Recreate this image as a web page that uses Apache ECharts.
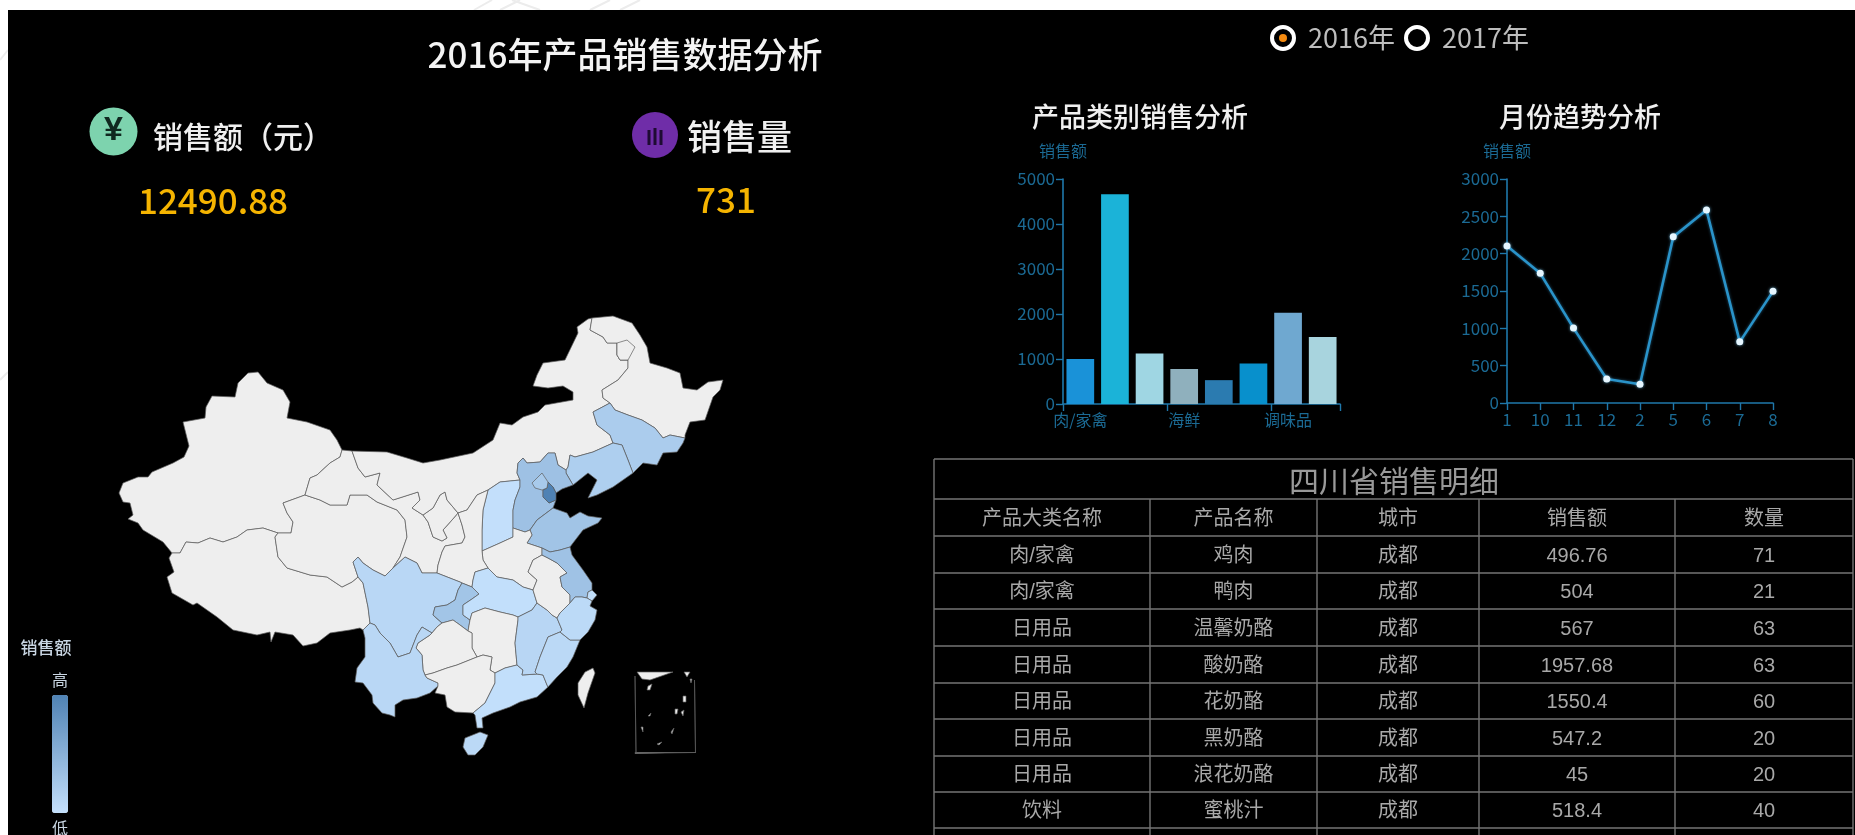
<!DOCTYPE html>
<html>
<head>
<meta charset="utf-8">
<style>html,body{margin:0;padding:0;background:#fff;overflow:hidden}#c{width:1855px;height:835px;filter:blur(0.4px)}</style>
<script src="https://cdn.jsdelivr.net/npm/echarts@6/dist/echarts.min.js"></script>
</head>
<body>
<div id="c"></div>
<script>
// ---------- data ----------
const barCategories = ['肉/家禽','日用品','特制品','海鲜','点心','谷类/麦片','调味品','饮料'];
const barValues = [1000,4660,1120,780,530,900,2030,1490];
const barColors = ['#1a92d8','#1bb3d8','#9fd6e3','#8fb0bd','#2b7bb0','#0890cc','#6fa8d0','#a8d4de'];
const monthCategories = ['1','10','11','12','2','5','6','7','8'];
const monthValues = [2104,1737,1003,322,251,2225,2584,819,1495];
const provinceNames = ['天津','河北','山东','江苏','重庆','北京','辽宁','吉林','四川','云南','江西','福建','浙江','广东','海南','山西','湖北','上海'];
const provinceValues = [3800,1250,1150,1200,1100,900,700,800,350,350,400,300,250,60,300,40,60,100];
const tableTitle = '四川省销售明细';
const tableHeaders = ['产品大类名称','产品名称','城市','销售额','数量'];
const colCategory = ['肉/家禽','肉/家禽','日用品','日用品','日用品','日用品','日用品','饮料'];
const colProduct = ['鸡肉','鸭肉','温馨奶酪','酸奶酪','花奶酪','黑奶酪','浪花奶酪','蜜桃汁'];
const colCity = ['成都','成都','成都','成都','成都','成都','成都','成都'];
const colSales = ['496.76','504','567','1957.68','1550.4','547.2','45','518.4'];
const colQty = ['71','21','63','63','60','20','20','40'];

// ---------- map outline: shared borders, turned into GeoJSON below ----------
const ARCS = {
xjW:[[172,553],[163,542],[143,530],[138,523],[128,519],[133,515],[130,503],[123,502],[119,493],[123,483],[138,477],[148,477],[152,472],[173,463],[184,457],[189,446],[185,430],[183,422],[205,418],[206,407],[212,396],[235,397],[238,383],[248,373],[258,372],[267,383],[283,390],[290,402],[287,418],[307,422],[330,430],[337,440],[342,450]],
xjGs:[[342,450],[340,457],[330,463],[317,475],[310,478],[305,495]],
xjQh:[[305,495],[283,503],[287,513],[293,522],[291,533],[278,533]],
xjTb:[[278,533],[263,528],[247,530],[237,537],[223,542],[210,538],[198,543],[186,542],[180,553],[172,553]],
tbS:[[172,553],[169,558],[174,572],[167,577],[172,593],[193,605],[197,603],[217,617],[233,630],[257,635],[270,632],[271,642],[275,632],[293,635],[303,646],[317,643],[330,633],[350,630],[360,628],[363,630]],
tbYn:[[363,630],[367,626],[370,623]],
tbSc:[[370,623],[368,607],[363,583],[358,577]],
qhTb:[[278,533],[275,537],[278,557],[287,568],[310,575],[327,577],[342,587],[352,582],[358,577]],
qhSc:[[358,577],[355,568],[353,562],[358,557],[363,563],[373,570],[385,576],[393,568]],
qhGs:[[393,568],[400,557],[407,537],[405,520],[397,510],[377,502],[367,495],[350,495],[347,505],[330,505],[320,500],[305,495]],
gsTop:[[342,450],[352,451]],
gsIm:[[352,451],[358,468],[365,477],[380,473],[377,485],[393,500],[418,492],[420,500],[412,508],[423,515]],
gsNx:[[423,515],[428,522],[433,537],[442,541],[447,538],[443,530],[452,520],[458,513]],
gsSx:[[458,513],[462,525],[465,537],[462,543],[445,546],[442,552],[438,565],[437,573]],
gsSc:[[437,573],[422,573],[417,563],[405,557],[393,568]],
nxIm:[[458,513],[447,500],[445,492],[440,495],[433,508],[423,515]],
imN:[[352,451],[387,452],[407,458],[423,463],[440,460],[473,453],[493,440],[500,423],[512,425],[523,417],[538,412],[545,405],[573,400],[573,392],[563,386],[548,388],[533,386],[537,375],[543,363],[565,360],[578,333],[577,327],[588,319],[592,318]],
imH:[[592,318],[590,330],[603,337],[607,343],[617,343],[617,355],[620,360],[628,360],[628,368],[618,380],[602,390],[603,398],[610,403]],
hjN:[[592,318],[613,316],[632,323],[640,335],[647,347],[650,363],[667,368],[680,373],[683,388],[697,390],[708,382],[723,380],[720,390],[713,397],[705,420],[690,422],[685,435],[685,438]],
hjJl:[[685,438],[670,435],[663,438],[655,428],[642,420],[628,415],[615,410],[610,403]],
jlIm:[[610,403],[593,412],[597,425],[610,435],[613,443]],
jlLn:[[613,443],[622,445],[628,460],[633,473]],
jlE:[[685,438],[683,443],[677,452],[663,453],[657,465],[643,463],[633,473]],
lnIm:[[613,443],[593,452],[575,457],[570,455],[568,467],[566,470]],
lnC:[[633,473],[613,487],[597,495],[588,498],[597,480],[588,473],[573,485]],
lnHb:[[566,470],[566,473],[573,485]],
hbIm:[[566,470],[558,465],[555,453],[548,453],[540,462],[527,463],[523,458],[518,463],[517,473],[520,480]],
sxIm:[[520,480],[500,482],[488,490]],
ssIm:[[488,490],[477,495],[467,510],[458,513]],
hbSx:[[520,480],[520,487],[515,500],[513,510],[513,528]],
sxHn:[[513,528],[513,537],[500,543],[482,551]],
sxSs:[[488,490],[483,510],[482,530],[482,551]],
hbC1:[[573,485],[562,489],[556,493]],
tjHb:[[556,493],[553,487],[548,482],[547,488],[543,490],[543,497],[549,503],[556,500]],
tjC:[[556,500],[556,493]],
hbC2:[[556,500],[553,508]],
hbSd:[[553,508],[537,520],[530,530]],
hbHn:[[530,530],[525,532],[513,528]],
sdC:[[553,508],[567,513],[570,518],[580,512],[588,516],[602,518],[598,523],[583,530],[573,543],[570,547]],
sdJs:[[570,547],[560,550],[550,552],[542,548]],
sdHn:[[542,548],[527,543],[532,535],[530,530]],
hnJs:[[542,548],[542,555]],
hnAh:[[542,555],[533,560],[528,572],[537,580],[533,590]],
hnHb:[[533,590],[523,587],[513,580],[497,577],[488,568]],
hnSs:[[488,568],[483,560],[482,551]],
ssCq:[[462,583],[472,587]],
ssHb:[[472,587],[473,580],[475,572],[488,568]],
ssSc:[[437,573],[460,582],[462,583]],
scCq:[[462,583],[458,590],[455,600],[447,605],[435,607],[433,615],[442,623]],
scGz:[[442,623],[437,627],[432,633]],
scYn:[[432,633],[422,627],[417,635],[410,653],[398,657],[390,643],[380,633],[375,625],[370,623]],
cqHb:[[472,587],[479,594],[472,599],[463,605],[463,615],[470,620]],
cqHn:[[470,620],[468,631]],
cqGz:[[468,631],[460,625],[453,620],[442,623]],
hbHn2:[[470,620],[472,613],[485,608],[500,612],[513,615],[518,617]],
hbJx:[[518,617],[532,610],[537,603]],
hbAh:[[537,603],[533,590]],
hnJx:[[518,617],[518,620],[515,643],[517,665]],
hnGd:[[517,665],[505,668],[495,673]],
hnGx:[[495,673],[490,670],[492,657],[483,655],[477,657]],
hnGz:[[477,657],[472,648],[472,633],[468,631]],
gzGx:[[477,657],[457,665],[447,668],[433,673],[425,675]],
gzYn:[[425,675],[423,670],[422,655],[416,648],[418,643],[430,635],[432,633]],
ynGx:[[425,675],[427,678],[438,683],[438,686]],
ynS:[[438,686],[430,693],[417,698],[403,700],[395,705],[395,717],[390,715],[382,713],[373,703],[372,695],[363,683],[355,682],[357,668],[365,657],[365,638],[363,630]],
gxS:[[438,686],[435,693],[445,695],[447,707],[455,712],[473,713]],
gxGd:[[473,713],[485,703],[495,683],[495,673]],
gdJx:[[517,665],[523,670],[522,675],[537,674]],
gdFj:[[537,674],[543,675],[547,685],[548,687]],
gdC:[[548,687],[537,697],[520,702],[510,707],[493,713],[482,718],[483,728],[477,728],[475,715],[473,713]],
jxAh:[[537,603],[547,610],[552,615],[557,618]],
jxZj:[[557,618],[562,630],[560,632]],
jxFj:[[560,632],[548,637],[540,657],[535,672],[537,674]],
fjZj:[[560,632],[570,640],[580,640]],
fjC:[[580,640],[573,657],[567,667],[557,677],[548,687]],
zjAh:[[557,618],[560,613],[570,603]],
ahJs:[[570,603],[570,595],[562,587],[560,577],[567,573],[557,563],[548,558],[542,555]],
jsC:[[570,547],[572,555],[583,570],[592,583],[592,590]],
jsSh:[[587,598],[588,592],[592,590]],
jsZj:[[570,603],[575,597],[582,597],[587,598]],
shC:[[592,590],[597,595],[592,601]],
shZj:[[592,601],[587,598]],
zjC:[[592,601],[590,606],[597,610],[595,620],[588,632],[580,640]]
};
const REGION_ARCS = {
'新疆':['xjW','xjGs','xjQh','xjTb'],
'西藏':['tbS','tbYn','tbSc','-qhTb','xjTb'],
'青海':['-xjQh','-qhGs','-qhSc','-qhTb'],
'甘肃':['gsTop','gsIm','gsNx','gsSx','gsSc','qhGs','-xjGs'],
'宁夏':['gsNx','nxIm'],
'内蒙古':['imN','imH','jlIm','lnIm','hbIm','sxIm','ssIm','nxIm','-gsIm'],
'黑龙江':['hjN','hjJl','-imH'],
'吉林':['-hjJl','jlE','-jlLn','-jlIm'],
'辽宁':['jlLn','lnC','-lnHb','-lnIm'],
'山西':['hbSx','sxHn','-sxSs','-sxIm'],
'河北':['lnHb','hbC1','tjHb','hbC2','hbSd','hbHn','-hbSx','-hbIm'],
'天津':['tjHb','tjC'],
'山东':['sdC','sdJs','sdHn','-hbSd'],
'河南':['-sdHn','hnJs','hnAh','hnHb','hnSs','-sxHn','-hbHn'],
'陕西':['sxSs','-hnSs','-ssHb','-ssCq','-ssSc','-gsSx','-ssIm'],
'四川':['ssSc','scCq','scGz','scYn','tbSc','qhSc','-gsSc'],
'重庆':['ssCq','cqHb','cqHn','cqGz','-scCq'],
'湖北':['ssHb','-hnHb','-hbAh','-hbJx','-hbHn2','-cqHb'],
'湖南':['hbHn2','hnJx','hnGd','hnGx','hnGz','-cqHn'],
'贵州':['-cqGz','-hnGz','gzGx','gzYn','-scGz'],
'云南':['-gzYn','ynGx','ynS','tbYn','-scYn'],
'广西':['-ynGx','-gzGx','-hnGx','-gxGd','-gxS'],
'广东':['-hnGd','gdJx','gdFj','gdC','gxGd'],
'江西':['hbJx','jxAh','jxZj','jxFj','-gdJx','-hnJx'],
'福建':['-jxFj','fjZj','fjC','-gdFj'],
'安徽':['-hnAh','-ahJs','-zjAh','-jxAh','hbAh'],
'江苏':['-sdJs','jsC','-jsSh','-jsZj','ahJs','-hnJs'],
'上海':['jsSh','shC','shZj'],
'浙江':['jsZj','-shZj','zjC','-fjZj','-jxZj','zjAh']
};
const EXTRA_RINGS = {
'北京':[[[532,483],[542,473],[548,482],[547,488],[542,490],[535,488]]],
'加格达奇':[[[617,343],[627,340],[635,347],[628,360],[620,360],[617,355]]],
'海南':[[[480,732],[488,735],[483,747],[475,755],[468,755],[463,747],[465,738]]],
'台湾':[[[593,668],[595,673],[588,693],[584,708],[578,695],[578,683],[585,672]]],
'南海诸岛':[
 [[637,672],[673,672],[650,680],[642,679]],[[684,672],[690,672],[687,677]],
 [[648,686],[652,684],[650,690],[647,690]],[[683,696],[686,696],[686,702],[683,702]],
 [[675,709],[678,709],[677,714],[675,714]],[[681,712],[684,710],[683,716]],
 [[641,727],[643,727],[643,732]],[[671,732],[674,728],[672,734]],
 [[657,744],[662,742],[659,745]],[[648,716],[651,713],[650,716]],
 [[690,679],[692,679],[691,683]],
 [[635,676],[636,676],[636,753],[635,753]],[[694.5,680],[695.5,680],[695.5,753],[694.5,753]],
 [[635,752.5],[695.5,752.5],[695.5,753.5],[635,753.5]]
]
};
// picture grid -> degrees
const toLon = x => 73.5 + (x - 118) * 0.10165;
const toLat = y => 53.5 - (y - 316) * 0.0804;
const toDeg = p => [toLon(p[0]), toLat(p[1])];
function ringFromArcs(ids){
  const out = [];
  ids.forEach(id => {
    const rev = id[0] === '-';
    const a = ARCS[rev ? id.slice(1) : id].slice();
    if (rev) a.reverse();
    a.forEach((p,i) => { if (i > 0 || !out.length) out.push(p); });
  });
  return out;
}
const features = [];
let bx0=1e9,bx1=-1e9,by0=1e9,by1=-1e9;
function addFeature(name, rings){
  rings.forEach(r => r.forEach(p => {
    bx0=Math.min(bx0,p[0]);bx1=Math.max(bx1,p[0]);by0=Math.min(by0,p[1]);by1=Math.max(by1,p[1]);
  }));
  features.push({type:'Feature',properties:{name},geometry:{type:'MultiPolygon',
    coordinates:rings.map(r=>{const c=r.map(toDeg);c.push(c[0]);return [c];})}});
}
Object.keys(REGION_ARCS).forEach(n => addFeature(n,[ringFromArcs(REGION_ARCS[n])]));
Object.keys(EXTRA_RINGS).forEach(n => addFeature(n,EXTRA_RINGS[n]));
echarts.registerMap('cn-sales',{type:'FeatureCollection',features});

// ---------- styles ----------
const CJK = '"Noto Sans CJK SC","Noto Sans",sans-serif';
const TBL = '"Liberation Sans","Noto Sans CJK SC",sans-serif';
const AXIS_LINE = '#1f78ab';
const AXIS_TEXT = '#1b6a94';
const TBL_LINE = '#757575';
const TBL_TEXT = '#a8a8a8';

const colEdges = [934,1150,1317,1479,1675,1853];
const rowEdges = [459,499,536,573,609,646,683,719,756,792,828];

const graphics = [];
graphics.push({type:'rect',z:-10,shape:{x:8,y:10,width:1847,height:825},style:{fill:'#000'},silent:true});
[[474,10,492,0],[500,10,520,0],[540,10,512,0],[590,10,610,0],[620,10,640,0],[0,60,8,50],[0,380,8,372]].forEach(l=>
  graphics.push({type:'line',z:-11,shape:{x1:l[0],y1:l[1],x2:l[2],y2:l[3]},style:{stroke:'#ececec',lineWidth:2},silent:true}));
function text(x,y,t,size,color,align,font,weight){
  graphics.push({type:'text',z:20,x,y,silent:true,style:{text:t,fontSize:size,fill:color,align:align||'center',verticalAlign:'middle',fontFamily:font||CJK,fontWeight:weight||'normal'}});
}
// KPI
graphics.push({type:'circle',z:20,shape:{cx:113.5,cy:131.5,r:24},style:{fill:'#7dd3ae'},silent:true});
graphics.push({type:'text',z:21,x:113.5,y:131,silent:true,style:{text:'¥',fontSize:34,fontWeight:'bold',fill:'#10281f',align:'center',verticalAlign:'middle',fontFamily:TBL}});
text(153,137,'销售额（元）',30,'#f0f0f0','left',CJK,500);
text(213,201,'12490.88',35,'#f5b400','center',CJK,500);
graphics.push({type:'circle',z:20,shape:{cx:655,cy:135,r:23},style:{fill:'#6f2da8'},silent:true});
[[647.5,130,3,15],[653.5,128,3,17],[659.5,130,3,15]].forEach(r=>
  graphics.push({type:'rect',z:21,shape:{x:r[0],y:r[1],width:r[2],height:r[3]},style:{fill:'#1e0b33'},silent:true}));
text(687,137,'销售量',35,'#f0f0f0','left',CJK,500);
text(726,200,'731',35,'#f5b400','center',CJK,500);
// radio
[[1283,true,'2016年'],[1417,false,'2017年']].forEach(r=>{
  graphics.push({type:'circle',z:20,shape:{cx:r[0],cy:38,r:11},style:{fill:'#000',stroke:'#fff',lineWidth:4},silent:true});
  if(r[1]) graphics.push({type:'circle',z:21,shape:{cx:r[0],cy:38,r:4},style:{fill:'#f58a10'},silent:true});
  text(r[0]+25,38,r[2],27,'#bdbdbd','left');
});
// legend title
text(46,648,'销售额',17,'#c9d6e3','center',CJK,500);
// table
colEdges.forEach(x=>graphics.push({type:'line',z:20,silent:true,shape:{x1:x,y1:x===colEdges[0]||x===colEdges[5]?rowEdges[0]:rowEdges[1],x2:x,y2:835},style:{stroke:TBL_LINE,lineWidth:1.4}}));
rowEdges.forEach(y=>graphics.push({type:'line',z:20,silent:true,shape:{x1:colEdges[0],y1:y,x2:colEdges[5],y2:y},style:{stroke:TBL_LINE,lineWidth:1.4}}));
const midX = i => (colEdges[i]+colEdges[i+1])/2;
const midY = i => (rowEdges[i]+rowEdges[i+1])/2 + 1.5;
tableHeaders.forEach((h,c)=>text(midX(c),midY(1),h,20,TBL_TEXT,'center',TBL));
[colCategory,colProduct,colCity,colSales,colQty].forEach((col,c)=>col.forEach((v,r)=>text(midX(c),midY(r+2),v,20,TBL_TEXT,'center',TBL)));

function titleOf(t,x,y,size,color,weight){
  return {text:t,left:x,top:y,textAlign:'center',textVerticalAlign:'middle',padding:0,textStyle:{fontSize:size,fontWeight:weight||'normal',color,fontFamily:CJK}};
}
const axisCommon = {
  axisLine:{show:true,lineStyle:{color:AXIS_LINE,width:1.6}},
  axisTick:{show:true,length:7,lineStyle:{color:AXIS_LINE,width:1.4}},
  axisLabel:{color:AXIS_TEXT,fontSize:17,fontFamily:CJK},
  splitLine:{show:false}
};
const valueLabel = Object.assign({},axisCommon.axisLabel,{formatter:v=>String(v)});

const option = {
  backgroundColor:'#fff',
  animation:false,
  title:[
    titleOf('2016年产品销售数据分析',625,55,35,'#f4f4f4',500),
    titleOf('产品类别销售分析',1140,117,27,'#f0f0f0',500),
    titleOf('月份趋势分析',1580,117,27,'#f0f0f0',500),
    titleOf(tableTitle,1394,481,30,'#999')
  ],
  grid:[
    {left:1063,top:179,width:277,height:225,containLabel:false},
    {left:1507,top:179,width:266,height:224,containLabel:false}
  ],
  xAxis:[
    Object.assign({},axisCommon,{type:'category',gridIndex:0,data:barCategories,axisLabel:Object.assign({},axisCommon.axisLabel,{interval:2,fontSize:16})}),
    Object.assign({},axisCommon,{type:'category',gridIndex:1,data:monthCategories,boundaryGap:false})
  ],
  yAxis:[
    Object.assign({},axisCommon,{type:'value',gridIndex:0,min:0,max:5000,interval:1000,axisLabel:valueLabel,name:'销售额',nameLocation:'end',nameGap:20,nameTextStyle:{color:AXIS_TEXT,fontSize:16,fontFamily:CJK,align:'center'}}),
    Object.assign({},axisCommon,{type:'value',gridIndex:1,min:0,max:3000,interval:500,axisLabel:valueLabel,name:'销售额',nameLocation:'end',nameGap:20,nameTextStyle:{color:AXIS_TEXT,fontSize:16,fontFamily:CJK,align:'center'}})
  ],
  geo:{
    map:'cn-sales',roam:false,silent:true,
    left:bx0,top:by0,width:bx1-bx0,height:by1-by0,
    label:{show:false},
    itemStyle:{areaColor:'#eeeeee',borderColor:'#5f5f5f',borderWidth:0.7},
    emphasis:{disabled:true},select:{disabled:true}
  },
  visualMap:{
    type:'continuous',seriesIndex:0,min:0,max:3800,left:37,top:657,
    itemWidth:16,itemHeight:118,text:['高','低'],textGap:7,calculable:false,
    inRange:{color:['#c4e0fc','#4f82b4']},
    textStyle:{color:'#c9d6e3',fontSize:16,fontFamily:CJK}
  },
  series:[
    {type:'map',geoIndex:0,silent:true,data:provinceNames.map((n,i)=>({name:n,value:provinceValues[i]}))},
    {type:'bar',xAxisIndex:0,yAxisIndex:0,barCategoryGap:'20%',silent:true,
     data:barValues.map((v,i)=>({value:v,itemStyle:{color:barColors[i]}}))},
    {type:'line',xAxisIndex:1,yAxisIndex:1,data:monthValues,silent:true,
     symbol:'circle',symbolSize:7,showSymbol:true,
     lineStyle:{color:'#2a93c9',width:2.6,shadowColor:'rgba(60,170,230,.5)',shadowBlur:3},
     itemStyle:{color:'#e6f6ff',shadowColor:'rgba(120,200,240,.8)',shadowBlur:3}}
  ],
  graphic:{elements:graphics}
};
const chart = echarts.init(document.getElementById('c'),null,{renderer:'canvas',width:1855,height:835});
chart.setOption(option);
</script>
</body>
</html>
